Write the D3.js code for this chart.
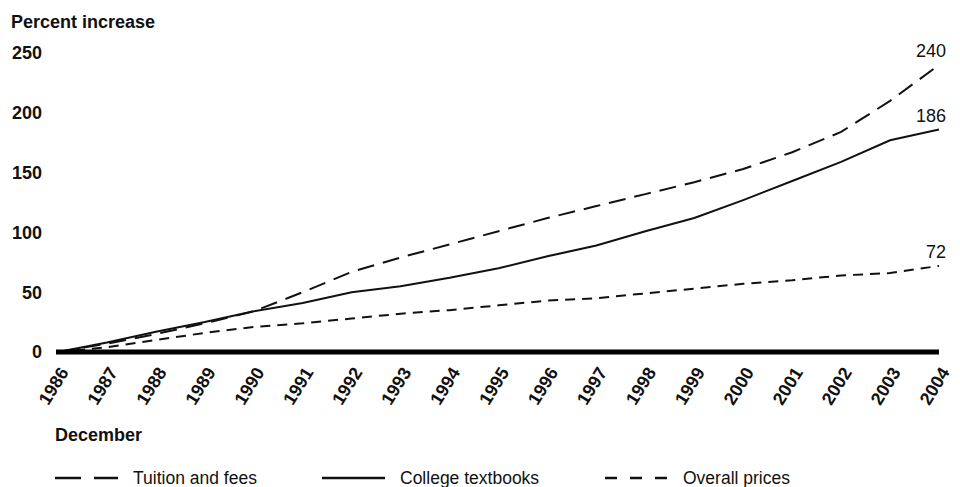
<!DOCTYPE html>
<html><head><meta charset="utf-8">
<script src="https://cdn.jsdelivr.net/npm/d3@7"></script>
<style>
body{margin:0;background:#fff;}
text{font-family:"Liberation Sans",Arial,Helvetica,sans-serif;fill:#111;}
</style></head>
<body>
<svg id="c" width="960" height="487"></svg>
<script>
const years = [1986,1987,1988,1989,1990,1991,1992,1993,1994,1995,1996,1997,1998,1999,2000,2001,2002,2003,2004];
const tuition = [0,7,15,24,34,50,67,79,90,101,112,122,132,142,153,167,184,210,240];
const textbooks = [0,8,17,25,34,41,50,55,62,70,80,89,101,112,127,143,159,177,186];
const overall = [0,4,10,16,21,24,28,32,35,39,43,45,49,53,57,60,64,66,72];
const yTicks = [0,50,100,150,200,250];
const seriesNames = ["Tuition and fees","College textbooks","Overall prices"];
const endLabels = ["240","186","72"];

const svg = d3.select("#c");
const x = d3.scalePoint().domain(years).range([58, 939]);
const y = d3.scaleLinear().domain([0, 250]).range([352, 53]);

const styles = [
  {dash:"17,9", w:2},
  {dash:null, w:2},
  {dash:"10,7", w:2}
];
const data = [tuition, textbooks, overall];

// y tick labels
svg.append("g").selectAll("text").data(yTicks).join("text")
  .attr("x", 42).attr("y", d => y(d)).attr("dy","0.35em")
  .attr("text-anchor","end").attr("font-weight","bold").attr("font-size","18px")
  .text(d => d);

svg.append("text").attr("x", 11).attr("y", 28).attr("font-weight","bold")
  .attr("font-size","18px").text("Percent increase");

// lines
const line = d3.line().x((d,i)=>x(years[i])).y(d=>y(d));
data.forEach((s,k)=>{
  svg.append("path").datum(s).attr("d", line).attr("fill","none")
    .attr("stroke","#111").attr("stroke-width", styles[k].w)
    .attr("stroke-dasharray", styles[k].dash);
});

// zero axis
svg.append("line").attr("x1", x(1986)-2).attr("x2", x(2004)).attr("y1", y(0)).attr("y2", y(0))
  .attr("stroke","#000").attr("stroke-width",5);

// x tick labels
svg.append("g").selectAll("text").data(years).join("text")
  .attr("transform", d => `translate(${x(d)+6},${y(0)+17}) rotate(-58)`)
  .attr("text-anchor","end").attr("dy","0.35em").attr("font-weight","bold").attr("font-size","18px")
  .text(d => d);

svg.append("text").attr("x", 55).attr("y", 441).attr("font-weight","bold")
  .attr("font-size","18px").text("December");

// end labels
data.forEach((s,k)=>{
  svg.append("text").attr("x", 946).attr("y", y(s[s.length-1]) - 8)
    .attr("text-anchor","end").attr("font-size","18px").text(endLabels[k]);
});

// legend
const legX = [55, 322, 605];
const leg = svg.append("g");
seriesNames.forEach((n,k)=>{
  leg.append("line").attr("x1", legX[k]).attr("x2", legX[k]+63).attr("y1", 478).attr("y2", 478)
    .attr("stroke","#111").attr("stroke-width",2.5)
    .attr("stroke-dasharray", k===0 ? "26,13" : (k===2 ? "12,13" : null));
  leg.append("text").attr("x", legX[k]+78).attr("y", 484).attr("font-size","17.5px").text(n);
});
</script>
</body></html>
